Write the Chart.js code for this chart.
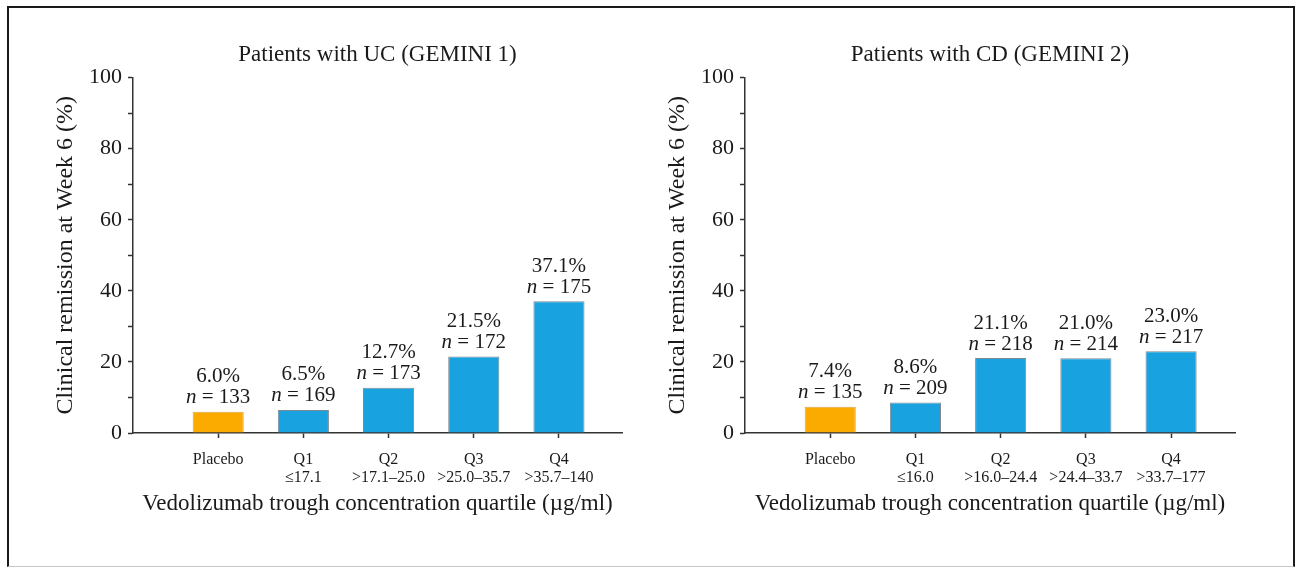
<!DOCTYPE html>
<html>
<head>
<meta charset="utf-8">
<script src="https://cdn.jsdelivr.net/npm/chart.js@4.4.1/dist/chart.umd.min.js"></script>
<style>
  body { margin: 0; background: #fff; width: 1297px; height: 568px; position: relative; overflow: hidden; }
  #frame { position: absolute; left: 7px; top: 6px; width: 1284px; height: 558px; border: 2px solid #1a1a1a; border-bottom: 1px solid #c8c8c8; }
  canvas { position: absolute; top: 0; }
  #ucChart { left: 0; }
  #cdChart { left: 612px; }
</style>
</head>
<body>
<div id="frame"></div>
<canvas id="ucChart" width="648" height="568"></canvas>
<canvas id="cdChart" width="660" height="568"></canvas>
<script>
// categories + quartile ranges (µg/ml)
const categories = ['Placebo', 'Q1', 'Q2', 'Q3', 'Q4'];
const ucRanges = ['', '≤17.1', '>17.1–25.0', '>25.0–35.7', '>35.7–140'];
const cdRanges = ['', '≤16.0', '>16.0–24.4', '>24.4–33.7', '>33.7–177'];

// clinical remission at week 6 (%)
const ucRemission = [6.0, 6.5, 12.7, 21.5, 37.1];
const cdRemission = [7.4, 8.6, 21.1, 21.0, 23.0];

// patients per group
const ucN = [133, 169, 173, 172, 175];
const cdN = [135, 209, 218, 214, 217];

const yTickStep = 10;
const yLabelStep = 20;

const FONT = '"Liberation Serif", "Times New Roman", serif';
const TEXT = '#1a1a1a';
const ORANGE = '#fbab00';
const BLUE = '#18a3e0';

// "6.0%" / "n = 133" above each bar
const barLabels = {
    id: 'barLabels',
    afterDatasetsDraw(chart) {
        const ctx = chart.ctx;
        const ds = chart.data.datasets[0];
        chart.getDatasetMeta(0).data.forEach((bar, i) => {
            ctx.save();
            ctx.fillStyle = TEXT;
            ctx.textBaseline = 'middle';
            ctx.font = '21px ' + FONT;
            ctx.textAlign = 'center';
            ctx.fillText(ds.data[i].y.toFixed(1) + '%', bar.x, bar.y - 35);

            const rest = ' = ' + ds.nValues[i];
            ctx.font = 'italic 21px ' + FONT;
            const wN = ctx.measureText('n').width;
            ctx.font = '21px ' + FONT;
            const wRest = ctx.measureText(rest).width;
            const x0 = bar.x - (wN + wRest) / 2;
            ctx.textAlign = 'left';
            ctx.font = 'italic 21px ' + FONT;
            ctx.fillText('n', x0, bar.y - 14);
            ctx.font = '21px ' + FONT;
            ctx.fillText(rest, x0 + wN, bar.y - 14);
            ctx.restore();
        });
    }
};

function makeChart(id, title, values, nValues, ranges, xMax, padRight) {
    new Chart(document.getElementById(id), {
        type: 'bar',
        data: {
            datasets: [{
                data: values.map((v, i) => ({ x: i, y: v })),
                nValues: nValues,
                backgroundColor: values.map((v, i) => i === 0 ? ORANGE : BLUE),
                borderColor: values.map((v, i) => i === 0 ? '#d9a64a' : '#7d8a92'),
                borderWidth: 1,
                borderSkipped: 'bottom',
                categoryPercentage: 1,
                barPercentage: 0.6
            }]
        },
        options: {
            responsive: false,
            devicePixelRatio: 1,
            animation: false,
            layout: { padding: { left: 51, right: padRight, top: 0, bottom: 50 } },
            plugins: {
                legend: { display: false },
                tooltip: { enabled: false },
                title: {
                    display: true,
                    fullSize: false,
                    text: title,
                    color: TEXT,
                    font: { family: FONT, size: 23, weight: 'normal', lineHeight: 1.2 },
                    padding: { top: 41, bottom: 9 }
                }
            },
            scales: {
                x: {
                    type: 'linear',
                    offset: false,
                    min: -1,
                    max: xMax,
                    afterBuildTicks: (scale) => {
                        scale.ticks = categories.map((c, i) => ({ value: i }));
                    },
                    afterFit: (scale) => { scale.height = 85; },
                    ticks: {
                        autoSkip: false,
                        maxRotation: 0,
                        color: TEXT,
                        padding: 13,
                        font: { family: FONT, size: 16, lineHeight: 1.12 },
                        callback: (v) => ranges[v] ? [categories[v], ranges[v]] : categories[v]
                    },
                    grid: { offset: false, drawOnChartArea: false, tickLength: 5, tickColor: '#333', tickWidth: 1.5 },
                    border: { color: '#333', width: 1.5 },
                    title: {
                        display: true,
                        text: 'Vedolizumab trough concentration quartile (µg/ml)',
                        color: TEXT,
                        font: { family: FONT, size: 23, lineHeight: 1.2 },
                        padding: 0
                    }
                },
                y: {
                    min: 0,
                    max: 100,
                    afterFit: (scale) => { scale.width = 82; },
                    ticks: {
                        stepSize: yTickStep,
                        autoSkip: false,
                        color: TEXT,
                        padding: 6,
                        font: { family: FONT, size: 22 },
                        callback: (v) => v % yLabelStep === 0 ? v : ''
                    },
                    grid: { drawOnChartArea: false, tickLength: 5, tickColor: '#333', tickWidth: 1.5 },
                    border: { color: '#333', width: 1.5 },
                    title: {
                        display: true,
                        text: 'Clinical remission at Week 6 (%)',
                        color: TEXT,
                        font: { family: FONT, size: 24, lineHeight: 1.2 },
                        padding: 0
                    }
                }
            }
        },
        plugins: [barLabels]
    });
}

makeChart('ucChart', 'Patients with UC (GEMINI 1)', ucRemission, ucN, ucRanges, 4.74, 26);
makeChart('cdChart', 'Patients with CD (GEMINI 2)', cdRemission, cdN, cdRanges, 4.75, 37);
</script>
</body>
</html>
